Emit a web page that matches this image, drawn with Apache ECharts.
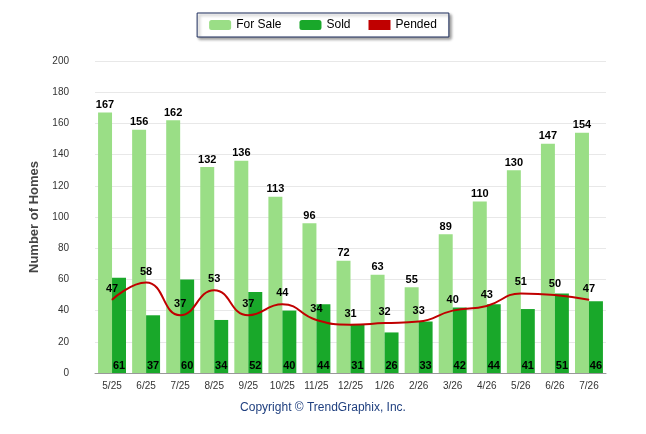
<!DOCTYPE html>
<html>
<head>
<meta charset="utf-8">
<script src="https://cdn.jsdelivr.net/npm/echarts@6/dist/echarts.min.js"></script>
<style>html,body{margin:0;padding:0;background:#fff;}#main{width:646px;height:434px;}</style>
</head>
<body>
<div id="main"></div>
<script>
var months = ['5/25', '6/25', '7/25', '8/25', '9/25', '10/25', '11/25', '12/25', '1/26', '2/26', '3/26', '4/26', '5/26', '6/26', '7/26'];
var forSale = [167, 156, 162, 132, 136, 113, 96, 72, 63, 55, 89, 110, 130, 147, 154];
var sold = [61, 37, 60, 34, 52, 40, 44, 31, 26, 33, 42, 44, 41, 51, 46];
var pended = [47, 58, 37, 53, 37, 44, 34, 31, 32, 33, 40, 43, 51, 50, 47];

var chart = echarts.init(document.getElementById('main'));
var lbl = {show: true, color: '#000', fontWeight: 'bold', fontSize: 11, fontFamily: 'Arial'};
chart.setOption({
    animation: false,
    textStyle: {fontFamily: 'Arial'},
    legend: {
        top: 13, left: 'center',
        borderColor: '#1f2f5f', borderWidth: 1, padding: [6, 12],
        shadowColor: 'rgba(0,0,0,0.4)', shadowBlur: 3, shadowOffsetX: 2, shadowOffsetY: 2,
        backgroundColor: '#fff',
        itemWidth: 22, itemHeight: 10, itemGap: 18,
        textStyle: {fontSize: 12, color: '#000'},
        data: ['For Sale', 'Sold', {name: 'Pended', icon: 'rect', itemStyle: {color: '#c00000'}}]
    },
    grid: {left: 95, right: 40, top: 61, bottom: 61},
    xAxis: {
        type: 'category', data: months,
        axisLine: {lineStyle: {color: '#999'}},
        axisTick: {show: false},
        axisLabel: {color: '#333', fontSize: 10}
    },
    yAxis: {
        type: 'value', min: 0, max: 200, interval: 20,
        name: 'Number of Homes', nameLocation: 'middle', nameGap: 54,
        nameTextStyle: {fontSize: 13, fontWeight: 'bold', color: '#444'},
        axisLabel: {color: '#333', fontSize: 10, margin: 26},
        splitLine: {lineStyle: {color: '#e8e8e8'}}
    },
    series: [
        {
            name: 'For Sale', type: 'bar', data: forSale, barGap: '0%', barCategoryGap: '18%',
            itemStyle: {color: '#9ade86'},
            label: Object.assign({position: 'top', distance: 2}, lbl)
        },
        {
            name: 'Sold', type: 'bar', data: sold,
            itemStyle: {color: '#19a82a'},
            label: Object.assign({position: 'insideBottom', distance: 2}, lbl)
        },
        {
            name: 'Pended', type: 'line', data: pended, smooth: 0.5, symbol: 'circle', symbolSize: 1,
            lineStyle: {color: '#c00000', width: 2}, itemStyle: {color: '#c00000'},
            label: Object.assign({position: 'top', distance: 5}, lbl), z: 5
        }
    ],
    graphic: [{
        type: 'text', left: 'center', top: 402,
        style: {text: 'Copyright © TrendGraphix, Inc.', fill: '#1f3f7f', fontSize: 12, fontFamily: 'Arial'}
    }]
});
</script>
</body>
</html>
